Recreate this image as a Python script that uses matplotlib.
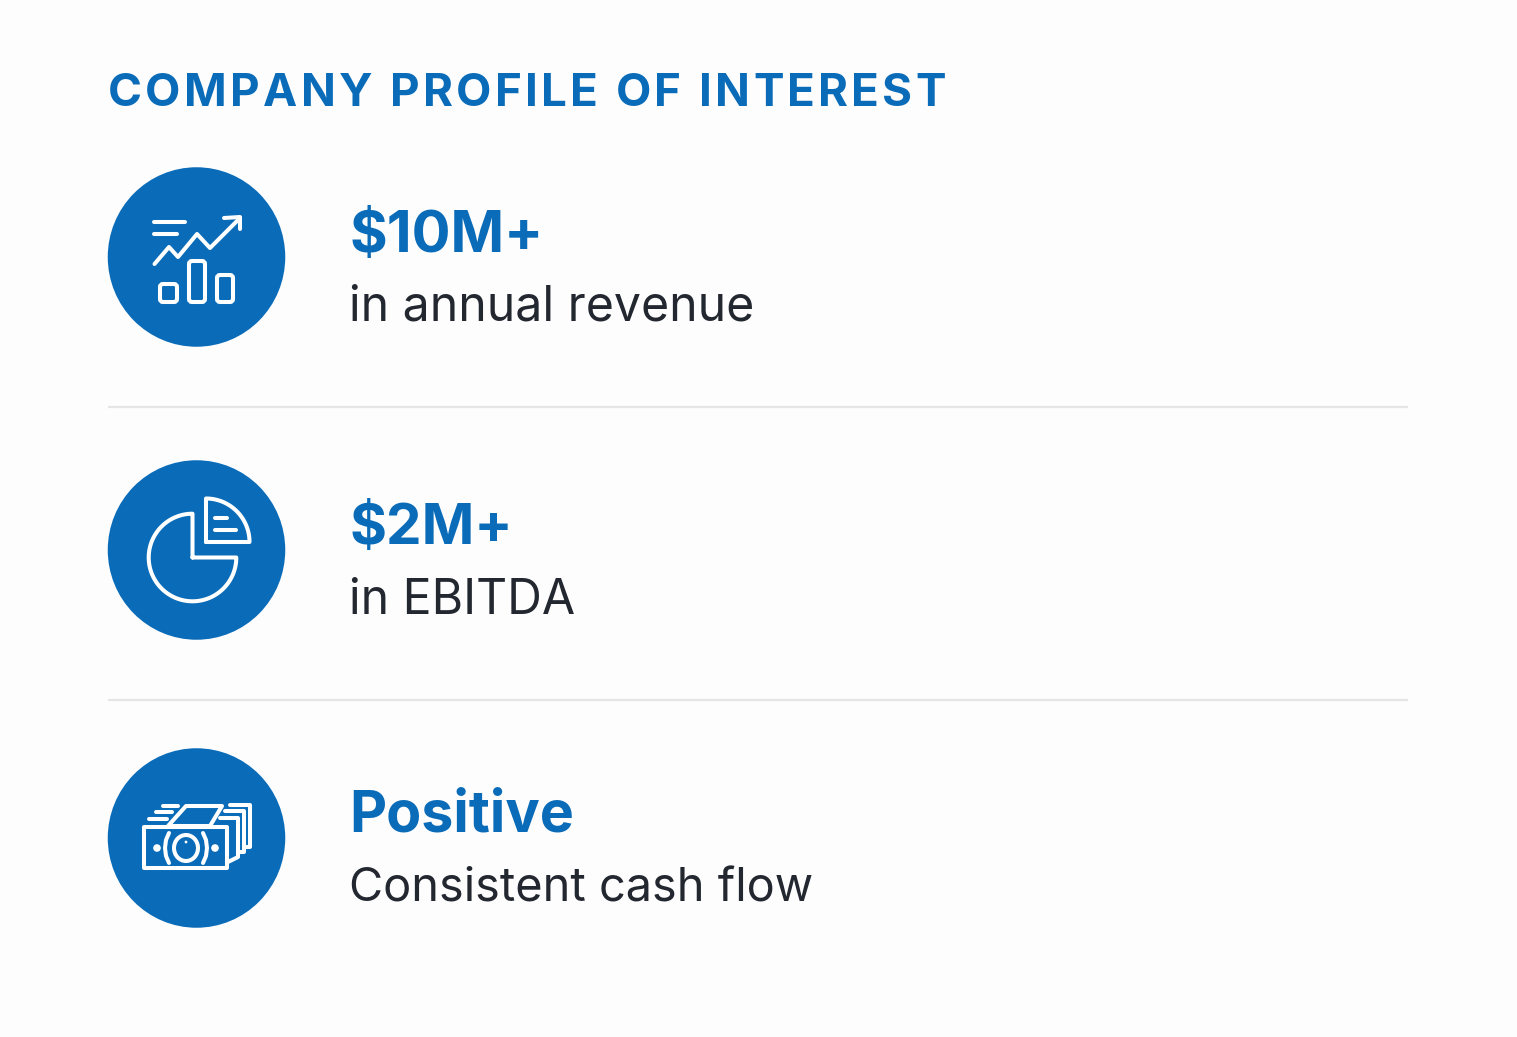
import matplotlib
matplotlib.use("Agg")
import matplotlib.pyplot as plt
import numpy as np
from matplotlib.patches import Circle, FancyBboxPatch, Polygon, Ellipse
from matplotlib.text import Text
from matplotlib.transforms import Bbox

TITLE = "COMPANY PROFILE OF INTEREST"
HEADLINES = ["$10M+", "$2M+", "Positive"]
DESCRIPTIONS = ["in annual revenue", "in EBITDA", "Consistent cash flow"]

BLUE = "#0A6CB8"
DARK = "#23272F"
RULE = "#E4E5E7"
WHITE = "#FFFFFF"
FONT = "Inter"
LW = 2.9

fig = plt.figure(figsize=(15.17, 10.37), dpi=100, facecolor="#FDFDFE")
ax = fig.add_axes([0, 0, 1, 1])
ax.set_xlim(0, 1517)
ax.set_ylim(1037, 0)
ax.axis("off")


class SpacedText(Text):
    """One text object, drawn with extra tracking between its letters."""
    tracking = 3.3  # pixels

    def _w(self, renderer, s):
        w, _, _ = renderer.get_text_width_height_descent(s, self.get_fontproperties(), False)
        return w

    def draw(self, renderer):
        s = self.get_text()
        x0, y0 = self.get_transform().transform(self.get_position())
        for i, c in enumerate(s):
            if c == " ":
                continue
            dx = self._w(renderer, s[:i + 1]) - self._w(renderer, c) + i * self.tracking
            t = Text(x0 + dx, y0, c, color=self.get_color(), fontproperties=self.get_fontproperties(),
                     ha="left", va="baseline", transform=None)
            t.set_figure(self.get_figure())
            t.draw(renderer)

    def get_window_extent(self, renderer=None, dpi=None):
        b = super().get_window_extent(renderer, dpi)
        return Bbox.from_extents(b.x0, b.y0, b.x1 + self.tracking * (len(self.get_text()) - 1), b.y1)


def line(xs, ys, lw=LW):
    ax.plot(xs, ys, color=WHITE, lw=lw, solid_capstyle="round", solid_joinstyle="round", zorder=3)


def rbox(x, y, w, h, r=3):
    ax.add_patch(FancyBboxPatch((x + r, y + r), w - 2 * r, h - 2 * r,
                                boxstyle=f"round,pad={r}", fc="none", ec=WHITE, lw=LW, zorder=3))


def icon_chart():
    line([154.5, 185], [222, 222])
    line([154.5, 177], [234, 234])
    line([154.5, 169, 178, 197, 210, 240], [264, 247, 257, 234, 248, 218])
    line([224, 240, 240], [218, 217, 229])
    rbox(160, 284, 17, 18)
    rbox(189, 261, 16, 41)
    rbox(217, 275, 16, 27)


def icon_pie():
    t = np.radians(np.linspace(-90, -360, 100))
    cx, cy, r = 192.5, 557.5, 43.8
    line(np.r_[cx, cx + r * np.cos(t), cx], np.r_[cy, cy + r * np.sin(t), cy])
    t = np.radians(np.linspace(-90, 0, 50))
    qx, qy, qr = 206, 542, 43.5
    line(np.r_[qx, qx + qr * np.cos(t), qx], np.r_[qy, qy + qr * np.sin(t), qy])
    line([215, 227], [518, 518])
    line([215, 236], [530, 530])


def icon_money():
    ax.add_patch(Polygon([[144, 827], [227, 827], [227, 868], [144, 868]], closed=True,
                         fc="none", ec=WHITE, lw=LW, joinstyle="round", zorder=3))
    ax.add_patch(Polygon([[168, 826], [186, 806], [222, 806], [210, 826]], closed=True,
                         fc="none", ec=WHITE, lw=LW, joinstyle="round", zorder=3))
    line([149, 167], [819, 819])
    line([156, 172], [812, 812])
    line([163, 178], [806, 806])
    line([220, 238, 238, 228], [818, 818, 857, 862])
    line([225, 244, 244, 238], [811, 811, 852, 852])
    line([230, 250, 250, 244], [805, 805, 847, 847])
    ax.add_patch(Ellipse((186, 848), 24, 26, fc="none", ec=WHITE, lw=LW, zorder=3))
    ax.add_patch(Circle((157, 848), 3.8, fc=WHITE, ec="none", zorder=3))
    ax.add_patch(Circle((215, 848), 3.8, fc=WHITE, ec="none", zorder=3))
    ax.add_patch(Circle((186, 842), 1.4, fc=WHITE, ec="none", zorder=4))
    line([169, 166, 165, 166, 169], [833, 840, 848, 856, 863])
    line([203, 206, 207, 206, 203], [833, 840, 848, 856, 863])


centers = [257, 550, 838]
head_y = [231, 524, 811]
head_size = [41.5, 40.7, 41.3]
desc_y = [302.5, 596.5, 884]
desc_size = [34.7, 34.7, 33.8]
icons = [icon_chart, icon_pie, icon_money]

title = SpacedText(108, 105.5, TITLE, color=BLUE, fontsize=33, fontweight="bold", family=FONT,
                   ha="left", va="baseline", transform=ax.transData)
ax.add_artist(title)

for cy, hy, hs, dy, ds, head, desc, draw in zip(centers, head_y, head_size, desc_y, desc_size,
                                               HEADLINES, DESCRIPTIONS, icons):
    ax.add_patch(Ellipse((196.5, cy), 177.5, 179.5, fc=BLUE, ec="none", zorder=2))
    draw()
    ax.text(349.5, hy, head, color=BLUE, fontsize=hs, fontweight="bold", family=FONT,
            ha="left", va="center_baseline")
    ax.text(349.5, dy, desc, color=DARK, fontsize=ds, family=FONT,
            ha="left", va="center_baseline")

for y in (407, 700):
    ax.plot([108, 1408], [y, y], color=RULE, lw=1.6, solid_capstyle="butt", zorder=1)

fig.savefig("out.png", dpi=100, facecolor=fig.get_facecolor())
